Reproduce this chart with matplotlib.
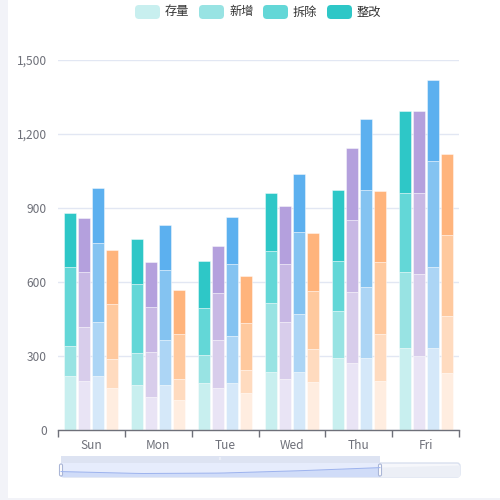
import matplotlib
matplotlib.use("Agg")
import matplotlib.pyplot as plt
from matplotlib.patches import FancyBboxPatch, Rectangle, Polygon
import numpy as np

plt.rcParams['font.family'] = ['Noto Sans CJK SC', 'DejaVu Sans']

days = ["Sun", "Mon", "Tue", "Wed", "Thu", "Fri"]
legend_names = ["存量", "新增", "拆除", "整改"]

# cumulative tops, per bar group (4 stacked segments each)
teal_cum   = [[220, 340, 660, 880], [184, 313, 593, 776], [192, 305, 496, 685],
              [236, 515, 728, 961], [293, 484, 685, 973], [332, 643, 961, 1292]]
purple_cum = [[200, 420, 640, 860], [134, 316, 500, 680], [172, 365, 555, 746],
              [207, 439, 673, 908], [273, 562, 853, 1142], [299, 634, 961, 1292]]
blue_cum   = [[220, 440, 760, 980], [184, 366, 650, 830], [192, 384, 674, 865],
              [236, 470, 804, 1038], [293, 582, 973, 1261], [332, 662, 1092, 1421]]
orange_cum = [[170, 290, 510, 730], [123, 207, 390, 569], [153, 244, 435, 625],
              [196, 330, 565, 799], [201, 392, 682, 971], [232, 463, 792, 1121]]

teal_colors   = ["#c8efef", "#98e3e3", "#63d7d7", "#2ec7c7"]
purple_colors = ["#e9e4f5", "#d8cdeb", "#c8b8e4", "#b4a0dd"]
blue_colors   = ["#d5e8f9", "#acd5f5", "#84c3f1", "#5cb0ef"]
orange_colors = ["#ffede0", "#ffdbbf", "#ffc99e", "#ffb47c"]

groups = [teal_cum, purple_cum, blue_cum, orange_cum]
group_colors = [teal_colors, purple_colors, blue_colors, orange_colors]

W, H = 500, 500
fig = plt.figure(figsize=(5, 5), dpi=100)
fig.patch.set_facecolor("white")

def fx(px): return px / W
def fy(py): return 1 - py / H

# left background strip
fig.patches.append(Rectangle((0, 0), fx(8), 1, transform=fig.transFigure,
                             facecolor="#f2f3f8", edgecolor="none", zorder=0))
fig.patches.append(Rectangle((0, 0), 1, fx(2), transform=fig.transFigure,
                             facecolor="#f2f3f8", edgecolor="none", zorder=0))

ax = fig.add_axes([fx(58), fy(430.3), fx(459 - 58), fy(60) - fy(430.3)])
ax.set_facecolor("none")

x = np.arange(len(days))
offsets = [-0.315, -0.105, 0.105, 0.315]
bw = 0.18
for g, (cum, cols, off) in enumerate(zip(groups, group_colors, offsets)):
    cum = np.array(cum)
    for s in range(4):
        bottom = cum[:, s - 1] if s > 0 else np.zeros(len(days))
        height = cum[:, s] - bottom
        ax.bar(x + off, height, bottom=bottom, width=bw, color=cols[s],
               edgecolor=(1, 1, 1, 0.5), linewidth=0.6, zorder=2)

ax.set_xlim(-0.5, 5.5)
ax.set_ylim(0, 1500)
ax.set_yticks([0, 300, 600, 900, 1200, 1500])
ax.set_yticklabels(["0", "300", "600", "900", "1,200", "1,500"])
ax.yaxis.grid(True, color="#dbe2f0", linewidth=1, alpha=0.8, zorder=3)
ax.tick_params(axis="y", length=0, pad=8, labelsize=8.6, labelcolor="#6e7079")
ax.set_xticks(np.arange(-0.5, 6, 1))
ax.set_xticklabels([])
ax.set_xticks(x, minor=True)
ax.set_xticklabels(days, minor=True)
ax.tick_params(axis="x", which="major", length=5, color="#6e7079", width=1)
ax.tick_params(axis="x", which="minor", length=0, pad=6, labelsize=8.6, labelcolor="#6e7079")
for sp in ["top", "right", "left"]:
    ax.spines[sp].set_visible(False)
ax.spines["bottom"].set_color("#6e7079")
ax.spines["bottom"].set_linewidth(1)
ax.spines["bottom"].set_zorder(4)

# legend
lx = [135, 199, 263, 327]
for i, name in enumerate(legend_names):
    fig.patches.append(FancyBboxPatch((fx(lx[i]), fy(19)), fx(25), fy(5) - fy(19),
                                      boxstyle="round,pad=0,rounding_size=0.008",
                                      transform=fig.transFigure, facecolor=teal_colors[i],
                                      edgecolor="none"))
    fig.text(fx(lx[i] + 30), fy(12), name, fontsize=8.8, color="#333333",
             va="center", ha="left")

# data zoom slider
x0, x1, xs = 61, 460, 380
y0, y1 = 463, 477
fig.patches.append(FancyBboxPatch((fx(x0), fy(y1)), fx(x1 - x0), fy(y0) - fy(y1),
                                  boxstyle="round,pad=0,rounding_size=0.006",
                                  transform=fig.transFigure, facecolor="#f6f7fb",
                                  edgecolor="#d9e0ef", linewidth=1))
# data shadow from first series
shadow_vals = np.array([c[0] for c in teal_cum], dtype=float)
sx = np.linspace(x0, x1, len(shadow_vals))
norm = (shadow_vals - shadow_vals.min() * 0.8) / (shadow_vals.max() - shadow_vals.min() * 0.8)
sy = y1 - 1.5 - norm * (y1 - y0 - 4)
pts = [(fx(a), fy(b)) for a, b in zip(sx, sy)]
poly_all = [(fx(x0), fy(y1))] + pts + [(fx(x1), fy(y1))]
fig.patches.append(Polygon(poly_all, closed=True, transform=fig.transFigure,
                           facecolor="#eceff6", edgecolor="none"))
# selected window
fig.patches.append(Rectangle((fx(x0), fy(y1)), fx(xs - x0), fy(y0) - fy(y1),
                             transform=fig.transFigure, facecolor="#e6ecfc",
                             edgecolor="none"))
# selected shadow
sel_x = np.linspace(x0, xs, 40)
sel_y = np.interp(sel_x, sx, sy)
sel_poly = [(fx(x0), fy(y1))] + [(fx(a), fy(b)) for a, b in zip(sel_x, sel_y)] + [(fx(xs), fy(y1))]
fig.patches.append(Polygon(sel_poly, closed=True, transform=fig.transFigure,
                           facecolor="#d0dcf8", edgecolor="none"))
fig.lines.append(plt.Line2D([fx(a) for a in sel_x], [fy(b) for b in sel_y],
                            transform=fig.transFigure, color="#9db3ee", linewidth=0.7))
# move handle bar
fig.patches.append(Rectangle((fx(x0), fy(y0)), fx(xs - x0), fy(456) - fy(y0),
                             transform=fig.transFigure, facecolor="#dde3f2", edgecolor="none"))
fig.text(fx((x0 + xs) / 2), fy(459.5), "lll", fontsize=3, color="white", ha="center", va="center")
# handles
for hx in [x0, xs]:
    fig.patches.append(FancyBboxPatch((fx(hx - 1.5), fy(y1 - 1)), fx(3), fy(y0 + 1) - fy(y1 - 1),
                                      boxstyle="round,pad=0,rounding_size=0.003",
                                      transform=fig.transFigure, facecolor="white",
                                      edgecolor="#aab6d6", linewidth=0.8))

fig.savefig("out.png", dpi=100)
